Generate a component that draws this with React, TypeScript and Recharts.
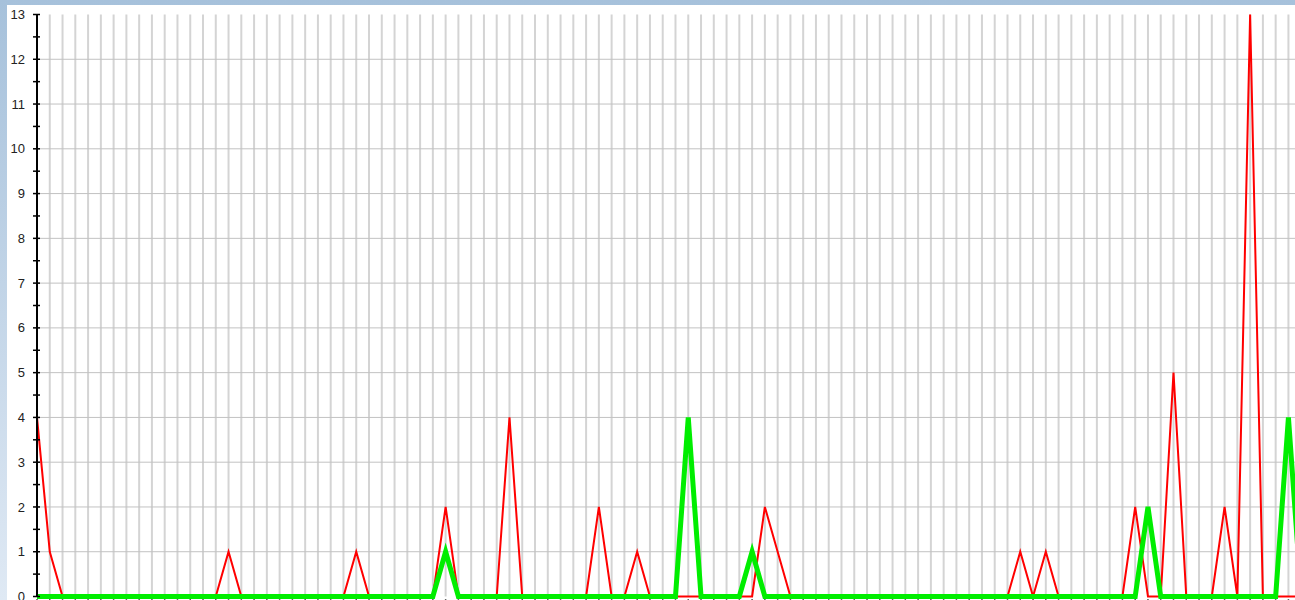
import React from 'react';
import { LineChart, Line, XAxis, YAxis, CartesianGrid, ReferenceLine } from 'recharts';

// x slots (one per vertical grid line)
const slots: number[] = Array.from({ length: 100 }, (_, i) => i);

const redSeries: number[] = [
  4, 1, 0, 0, 0, 0, 0, 0, 0, 0,
  0, 0, 0, 0, 0, 1, 0, 0, 0, 0,
  0, 0, 0, 0, 0, 1, 0, 0, 0, 0,
  0, 0, 2, 0, 0, 0, 0, 4, 0, 0,
  0, 0, 0, 0, 2, 0, 0, 1, 0, 0,
  0, 0, 0, 0, 0, 0, 0, 2, 1, 0,
  0, 0, 0, 0, 0, 0, 0, 0, 0, 0,
  0, 0, 0, 0, 0, 0, 0, 1, 0, 1,
  0, 0, 0, 0, 0, 0, 2, 0, 0, 5,
  0, 0, 0, 2, 0, 13, 0, 0, 0, 0,
];

const greenSeries: number[] = [
  0, 0, 0, 0, 0, 0, 0, 0, 0, 0,
  0, 0, 0, 0, 0, 0, 0, 0, 0, 0,
  0, 0, 0, 0, 0, 0, 0, 0, 0, 0,
  0, 0, 1, 0, 0, 0, 0, 0, 0, 0,
  0, 0, 0, 0, 0, 0, 0, 0, 0, 0,
  0, 4, 0, 0, 0, 0, 1, 0, 0, 0,
  0, 0, 0, 0, 0, 0, 0, 0, 0, 0,
  0, 0, 0, 0, 0, 0, 0, 0, 0, 0,
  0, 0, 0, 0, 0, 0, 0, 2, 0, 0,
  0, 0, 0, 0, 0, 0, 0, 0, 4, 0,
];

const yTicks: number[] = [
  0, 0.5, 1, 1.5, 2, 2.5, 3, 3.5, 4, 4.5, 5, 5.5, 6, 6.5,
  7, 7.5, 8, 8.5, 9, 9.5, 10, 10.5, 11, 11.5, 12, 12.5, 13,
];
const yGridValues: number[] = [1, 2, 3, 4, 5, 6, 7, 8, 9, 10, 11, 12];

const data = slots.map((s, i) => ({ slot: s, red: redSeries[i], green: greenSeries[i] }));

const YTick = (props: any) => {
  const { x, y, payload } = props;
  const v = payload.value;
  const major = Number.isInteger(v);
  return (
    <g>
      <line x1={x - 4} x2={x + 3} y1={y} y2={y} stroke="#000" strokeWidth={1.5} />
      {major && (
        <text
          x={x - 12}
          y={y}
          dy={4.6}
          textAnchor="end"
          fontSize={13}
          fill="#222"
          fontFamily="'Liberation Sans', Arial, sans-serif"
        >
          {v}
        </text>
      )}
    </g>
  );
};

const XTick = (props: any) => {
  const { x, y } = props;
  return <line x1={x} x2={x} y1={y + 2.6} y2={y + 7} stroke="#555" strokeWidth={1.5} />;
};

export default function App() {
  return (
    <div
      style={{
        position: 'absolute',
        left: 0,
        top: 0,
        width: 1295,
        height: 600,
        overflow: 'hidden',
        background: 'linear-gradient(to bottom, #a6c1db, #dfe9f4)',
      }}
    >
      <div style={{ position: 'absolute', left: 7, top: 5, right: 0, bottom: 0, background: '#fff' }} />
      <div style={{ position: 'absolute', left: 0, top: 0 }}>
        <LineChart
          width={1310}
          height={640}
          data={data}
          margin={{ top: 14.5, right: 8.8, bottom: 0, left: 0 }}
        >
          <CartesianGrid horizontal={false} stroke="#d4d4d4" strokeWidth={2} />
          {yGridValues.map((v) => (
            <ReferenceLine key={v} y={v} stroke="#c2c2c2" strokeWidth={1} />
          ))}
          <XAxis
            dataKey="slot"
            type="number"
            domain={[0, 99]}
            ticks={slots}
            interval={0}
            height={43.5}
            tickSize={0}
            tickMargin={0}
            tickLine={false}
            axisLine={false}
            tick={<XTick />}
          />
          <YAxis
            type="number"
            domain={[0, 13]}
            ticks={yTicks}
            interval={0}
            width={37}
            tickSize={0}
            tickMargin={0}
            tickLine={false}
            axisLine={{ stroke: '#000', strokeWidth: 2 }}
            tick={<YTick />}
          />
          <Line type="linear" dataKey="red" stroke="#ff0000" strokeWidth={2} dot={false} isAnimationActive={false} />
          <Line type="linear" dataKey="green" stroke="#00ee00" strokeWidth={5} dot={false} isAnimationActive={false} />
        </LineChart>
      </div>
    </div>
  );
}
